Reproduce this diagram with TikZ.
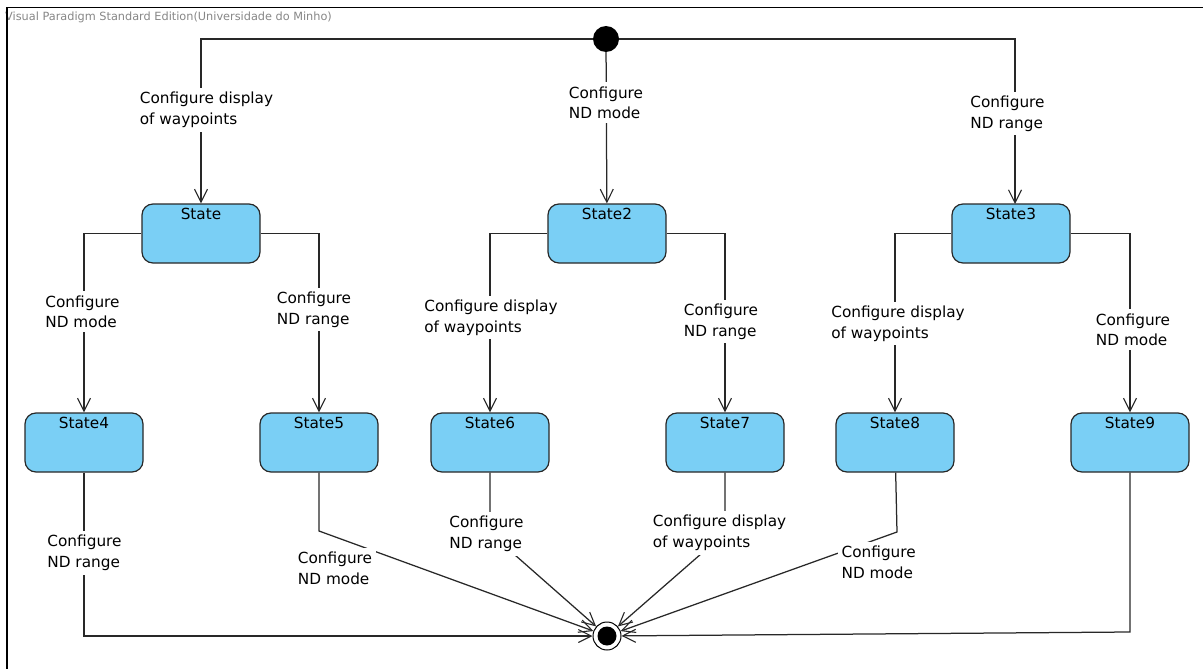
\documentclass[tikz,border=0pt]{standalone}
\usepackage{fontspec}
\setmainfont{DejaVu Sans}
\usetikzlibrary{arrows.meta}
\definecolor{statefill}{RGB}{122,207,245}
\definecolor{edgecol}{RGB}{40,40,40}
\definecolor{wmgray}{RGB}{135,135,135}
\begin{document}
\begin{tikzpicture}[x=1pt,y=-1pt,
  state/.style={draw=edgecol, line width=1.2pt, fill=statefill, rounded corners=11pt,
    minimum width=118pt, minimum height=59pt, inner sep=0pt},
  stname/.style={anchor=north, inner sep=0pt, yshift=-5pt, font=\fontsize{15.3}{17}\selectfont},
  trans/.style={draw=edgecol, line width=1.25pt, -{Straight Barb[length=13pt,width=13pt,line width=1.1pt]}},
  lbl/.style={fill=white, align=left, inner sep=4pt, font=\fontsize{15.3}{20.5}\selectfont},
]
\useasboundingbox (0,0) rectangle (1203,669);
\fill[white] (0,0) rectangle (1203,669);

% watermark and frame
\node[anchor=base west, inner sep=0pt, text=wmgray, font=\fontsize{11.3}{13}\selectfont] (wm) at (5,20.5)
  {Visual Paradigm Standard Edition(Universidade do Minho)};
\draw[line width=1.4pt] (7,669) -- (7,7.5) -- (1203,7.5);

% initial and final
\node[circle, fill=black, minimum size=26pt, inner sep=0pt] (init) at (606,39) {};
\node[circle, draw=black, line width=1pt, fill=white, minimum size=28pt, inner sep=0pt] (final) at (607,636) {};
\node[circle, fill=black, minimum size=19pt, inner sep=0pt] (finalin) at (607,636) {};

% states
\node[state] (s1) at (201,233.5) {};
\node[state] (s2) at (607,233.5) {};
\node[state] (s3) at (1011,233.5) {};
\node[state] (s4) at (84,442.5) {};
\node[state] (s5) at (319,442.5) {};
\node[state] (s6) at (490,442.5) {};
\node[state] (s7) at (725,442.5) {};
\node[state] (s8) at (895,442.5) {};
\node[state] (s9) at (1130,442.5) {};
\node[stname] (t1) at (s1.north) {State};
\node[stname] (t2) at (s2.north) {State2};
\node[stname] (t3) at (s3.north) {State3};
\node[stname] (t4) at (s4.north) {State4};
\node[stname] (t5) at (s5.north) {State5};
\node[stname] (t6) at (s6.north) {State6};
\node[stname] (t7) at (s7.north) {State7};
\node[stname] (t8) at (s8.north) {State8};
\node[stname] (t9) at (s9.north) {State9};

% bend points
\coordinate (b3) at (1015,204);
\coordinate (b5) at (319,531);
\coordinate (b6) at (490,533);
\coordinate (b7) at (725,533);
\coordinate (b8) at (897,532);
\coordinate (b9) at (1130,632);

% transitions
\draw[trans] (init) -| (s1);
\draw[trans] (init) -- (s2);
\draw[trans] (init) -| (b3);
\draw[trans] (s1.west) -| (s4);
\draw[trans] (s1.east) -| (s5);
\draw[trans] (s2.west) -| (s6);
\draw[trans] (s2.east) -| (s7);
\draw[trans] (s3.west) -| (s8);
\draw[trans] (s3.east) -| (s9);
\draw[trans] (s4) |- (final);
\draw[trans] (s5) -- (b5) -- (final);
\draw[trans] (s6) -- (b6) -- (final);
\draw[trans] (s7) -- (b7) -- (final);
\draw[trans] (s8) -- (b8) -- (final);
\draw[trans] (s9) -- (b9) -- (final);

% labels
\node[lbl] (l1) at (206.5,110) {Configure display\\of waypoints};
\node[lbl] (l2) at (606,102.6) {Configure\\ND mode};
\node[lbl] (l3) at (1007.5,113.6) {Configure\\ND range};
\node[lbl] (l4) at (82.5,311.6) {Configure\\ND mode};
\node[lbl] (l5) at (314,309.6) {Configure\\ND range};
\node[lbl] (l6) at (491,317.6) {Configure display\\of waypoints};
\node[lbl] (l7) at (721,321.6) {Configure\\ND range};
\node[lbl] (l8) at (898,323.6) {Configure display\\of waypoints};
\node[lbl] (l9) at (1133,329.6) {Configure\\ND mode};
\node[lbl] (l10) at (84.5,553) {Configure\\ND range};
\node[lbl] (l11) at (335,568.5) {Configure\\ND mode};
\node[lbl] (l12) at (486.5,534) {Configure\\ND range};
\node[lbl] (l13) at (719.5,533) {Configure display\\of waypoints};
\node[lbl] (l14) at (878.7,562.5) {Configure\\ND mode};
\end{tikzpicture}
\end{document}
